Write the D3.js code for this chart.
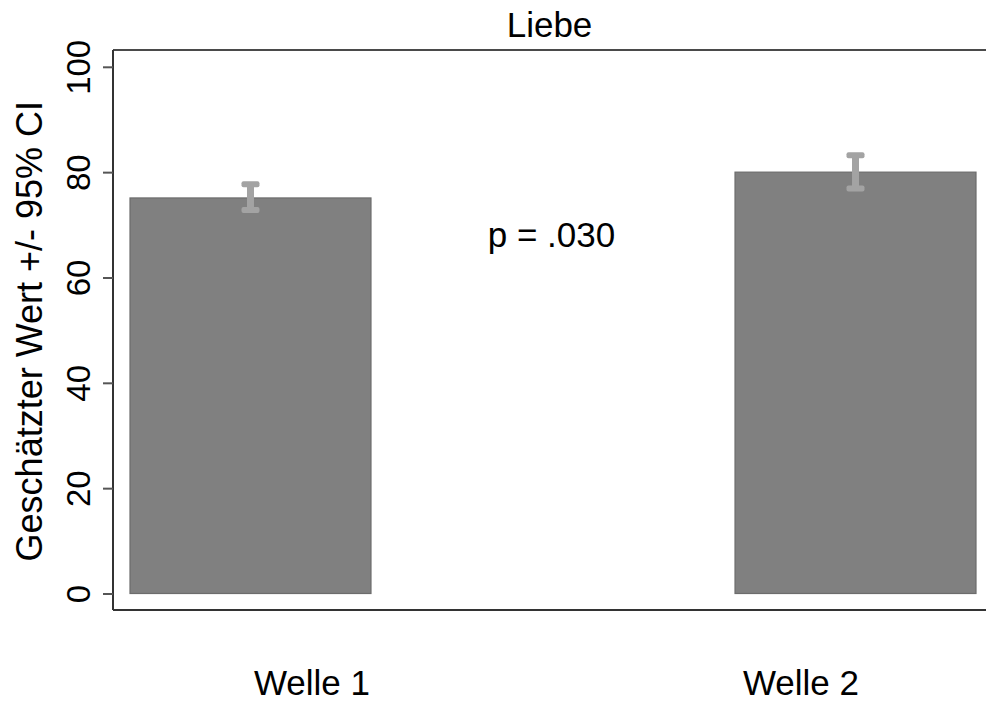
<!DOCTYPE html>
<html>
<head>
<meta charset="utf-8">
<script src="https://cdn.jsdelivr.net/npm/d3@7"></script>
<style>
  html, body { margin: 0; padding: 0; background: #fff; }
  svg { display: block; font-family: "Liberation Sans", Arial, sans-serif; }
</style>
</head>
<body>
<svg id="chart" width="986" height="701"></svg>
<script>
// ---- data ----
const categories = ["Welle 1", "Welle 2"];
const means = [75.1, 80.0];
const ciLow = [72.8, 76.9];
const ciHigh = [77.7, 83.2];
const yTicks = [0, 20, 40, 60, 80, 100];
const title = "Liebe";
const yLabel = "Geschätzter Wert +/- 95% CI";
const pLabel = "p = .030";
const pLabelValue = 65.8;

// ---- layout ----
const svg = d3.select("#chart");
const frame = { left: 113, right: 986, top: 50, bottom: 610 };

const y = d3.scaleLinear().domain([0, 100]).range([593.5, 66.8]);
const x = d3.scaleBand().domain(categories).range([130, 976])
  .paddingInner(0.6017).paddingOuter(0);
const xLab = d3.scalePoint().domain(categories).range([312, 801]);

// frame
svg.append("line").attr("x1", frame.left).attr("x2", frame.right)
  .attr("y1", frame.top).attr("y2", frame.top)
  .attr("stroke", "#4a4a4a").attr("stroke-width", 2);
svg.append("line").attr("x1", frame.left).attr("x2", frame.right)
  .attr("y1", frame.bottom).attr("y2", frame.bottom)
  .attr("stroke", "#333").attr("stroke-width", 2);
svg.append("line").attr("x1", frame.left).attr("x2", frame.left)
  .attr("y1", frame.top).attr("y2", frame.bottom)
  .attr("stroke", "#333").attr("stroke-width", 2);

// y axis
const yAxis = svg.append("g").attr("transform", `translate(${frame.left},0)`)
  .call(d3.axisLeft(y).tickValues(yTicks).tickSize(10).tickFormat(d3.format("d")));
yAxis.select(".domain").remove();
yAxis.selectAll(".tick line").attr("stroke", "#555").attr("stroke-width", 2);
yAxis.selectAll(".tick text")
  .attr("transform", "rotate(-90)")
  .attr("x", 0).attr("y", -23).attr("dy", 0)
  .attr("text-anchor", "middle")
  .attr("font-size", 33)
  .attr("font-family", "Liberation Sans, Arial, sans-serif")
  .attr("fill", "#000");

// bars
svg.append("g").selectAll("rect").data(categories).join("rect")
  .attr("x", d => x(d))
  .attr("width", x.bandwidth())
  .attr("y", (d, i) => y(means[i]))
  .attr("height", (d, i) => y(0) - y(means[i]))
  .attr("fill", "#808080")
  .attr("stroke", "#6c6c6c").attr("stroke-width", 1.2);

// error bars
const eb = svg.append("g").selectAll("g").data(categories).join("g");
const ebColor = "#a3a3a3";
eb.append("rect")
  .attr("x", d => x(d) + x.bandwidth() / 2 - 3.5)
  .attr("width", 7)
  .attr("y", (d, i) => y(ciHigh[i]))
  .attr("height", (d, i) => y(ciLow[i]) - y(ciHigh[i]))
  .attr("fill", ebColor);
eb.append("rect")
  .attr("x", d => x(d) + x.bandwidth() / 2 - 9)
  .attr("width", 18)
  .attr("y", (d, i) => y(ciHigh[i]) - 3)
  .attr("height", 6).attr("rx", 2)
  .attr("fill", ebColor);
eb.append("rect")
  .attr("x", d => x(d) + x.bandwidth() / 2 - 9)
  .attr("width", 18)
  .attr("y", (d, i) => y(ciLow[i]) - 3)
  .attr("height", 6).attr("rx", 2)
  .attr("fill", ebColor);

// x labels
svg.append("g").selectAll("text").data(categories).join("text")
  .attr("x", d => xLab(d))
  .attr("y", 695)
  .attr("text-anchor", "middle")
  .attr("font-size", 35)
  .attr("fill", "#000")
  .text(d => d);

// title
svg.append("text")
  .attr("x", (frame.left + frame.right) / 2)
  .attr("y", 37)
  .attr("text-anchor", "middle")
  .attr("font-size", 35)
  .attr("fill", "#000")
  .text(title);

// p-value
svg.append("text")
  .attr("x", (frame.left + frame.right) / 2 + 2)
  .attr("y", y(pLabelValue))
  .attr("text-anchor", "middle")
  .attr("font-size", 35)
  .attr("fill", "#000")
  .text(pLabel);

// y label
svg.append("text")
  .attr("transform", `translate(42,${(y(0) + y(100)) / 2 + 1}) rotate(-90)`)
  .attr("text-anchor", "middle")
  .attr("font-size", 36)
  .attr("fill", "#000")
  .text(yLabel);
</script>
</body>
</html>
